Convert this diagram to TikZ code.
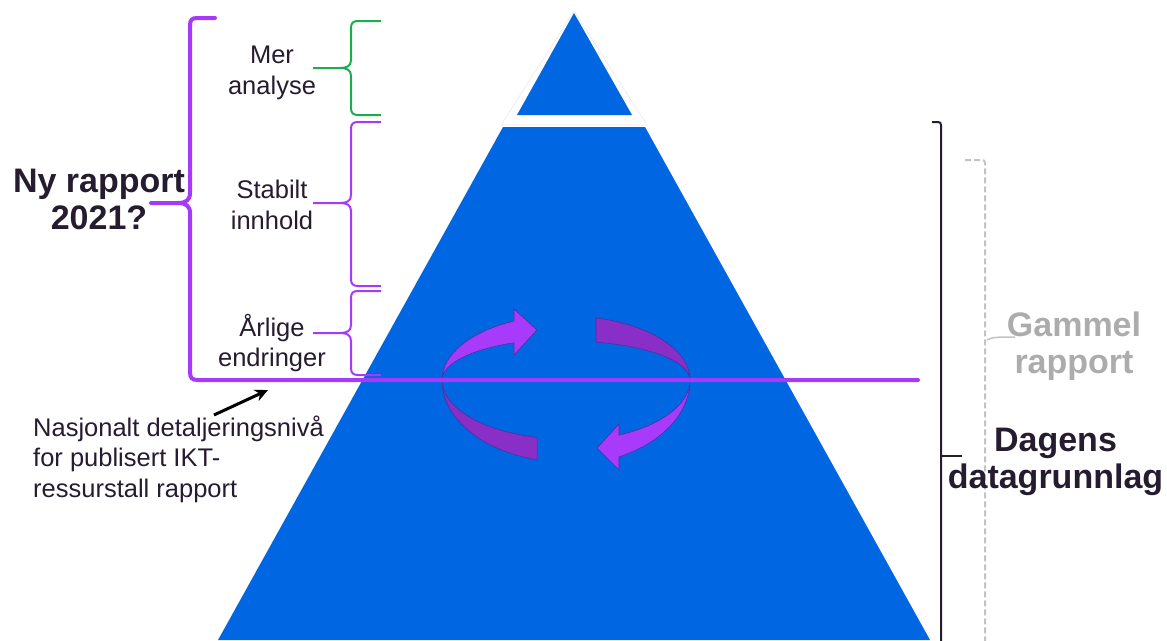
\documentclass[tikz,border=0pt]{standalone}
\usepackage{fontspec}
\setmainfont{Liberation Sans}
\usetikzlibrary{arrows.meta,calc}
\definecolor{pyrblue}{RGB}{0,102,226}
\definecolor{brpurple}{RGB}{164,58,250}
\definecolor{brgreen}{RGB}{30,170,80}
\definecolor{ribL}{RGB}{168,58,250}
\definecolor{ribD}{RGB}{138,46,200}
\definecolor{ribedge}{RGB}{70,50,160}
\definecolor{txtdark}{RGB}{38,28,48}
\definecolor{txtgray}{RGB}{172,172,172}
\definecolor{dashgray}{RGB}{195,195,195}
\newcommand\smallbrace[4]{%
  \draw[#4] (381,#1) -- (358,#1) .. controls (353,#1) and (351,#1+2) .. (351,#1+7)
    -- (351,#2-8) .. controls (351,#2-2) and (347,#2) .. (340,#2) -- (313,#2);
  \draw[#4] (340,#2) .. controls (347,#2) and (351,#2+2) .. (351,#2+8)
    -- (351,#3-7) .. controls (351,#3-2) and (353,#3) .. (358,#3) -- (381,#3);}
\begin{document}
\begin{tikzpicture}[x=1pt,y=1pt,yscale=-1,
  reg/.style={font=\fontsize{25.5}{30.5}\selectfont, text=txtdark, align=center, inner sep=0pt, anchor=base},
  big/.style={font=\fontsize{34}{37}\selectfont\bfseries, align=center, inner sep=0pt, anchor=base},
  bigbr/.style={draw=brpurple, line width=4pt, line cap=round},
  thinbr/.style={line width=2pt},
  ribbonL/.style={fill=ribL, draw=ribedge, line width=0.6pt},
  ribbonD/.style={fill=ribD, draw=ribedge, line width=0.6pt},
  blk/.style={draw=txtdark, line width=2pt},
  gdash/.style={draw=dashgray, line width=2pt, dash pattern=on 6pt off 3pt}]
\useasboundingbox (0,0) rectangle (1167,640);
\clip (0,0) rectangle (1167,640);
% pyramid
\filldraw[fill=white, draw=black!8, line width=0.6pt] (574,11) -- (501,125) -- (647,125) -- cycle;
\fill[pyrblue] (574,13) -- (517,115) -- (632,115) -- cycle;
\fill[pyrblue] (503,127) -- (645,127) -- (930,640) -- (218,640) -- cycle;
% cycle arrows
\coordinate (C) at (566,380);
\path[ribbonL] ($(C)+(245.2:124pt and 65pt)$) -- (514,309) -- (537,330) -- (514,355)
  -- ($(C)+(245.2:124pt and 41pt)$)
  arc[start angle=245.2,end angle=180,x radius=124pt,y radius=41pt]
  arc[start angle=180,end angle=245.2,x radius=124pt,y radius=65pt] -- cycle;
\path[ribbonD] ($(C)+(180:124pt and 82pt)$)
  arc[start angle=180,end angle=103.5,x radius=124pt,y radius=82pt]
  -- ($(C)+(103.5:124pt and 59pt)$)
  arc[start angle=103.5,end angle=180,x radius=124pt,y radius=59pt] -- cycle;
\path[ribbonD] ($(C)+(284:124pt and 64pt)$)
  arc[start angle=284,end angle=360,x radius=124pt,y radius=64pt]
  arc[start angle=0,end angle=-76,x radius=124pt,y radius=39pt] -- cycle;
\path[ribbonL] ($(C)+(64.7:124pt and 85pt)$) -- (619,470) -- (597,448) -- (619,424)
  -- ($(C)+(64.7:124pt and 61pt)$)
  arc[start angle=64.7,end angle=0,x radius=124pt,y radius=61pt]
  arc[start angle=0,end angle=64.7,x radius=124pt,y radius=85pt] -- cycle;
% big brace + line
\draw[bigbr] (215,18) -- (197,18) .. controls (192,18) and (190,20) .. (190,25) -- (190,193)
  .. controls (190,200) and (186,203) .. (178,203) -- (151,203);
\draw[bigbr] (178,203) .. controls (186,203) and (190,206) .. (190,213) -- (190,372)
  .. controls (190,378) and (192,380) .. (198,380) -- (918,380);
% small braces
\smallbrace{21}{68}{115}{thinbr,draw=brgreen}
\smallbrace{122}{203}{286}{thinbr,draw=brpurple}
\smallbrace{291}{333}{375}{thinbr,draw=brpurple}
% right brackets
\draw[blk] (932,122) -- (938,122) .. controls (940,122) and (941,123) .. (941,125) -- (941,645);
\draw[blk] (941,456) -- (962,456);
\draw[gdash] (965,160) -- (982,160) .. controls (984,160) and (985,161) .. (985,163) -- (985,645);
\draw[draw=dashgray, line width=1.5pt] (987,340) .. controls (992,337) and (998,337) .. (1015,337);
% texts
\node[reg] (mer) at (272,94) {Mer\\analyse};
\node[reg] (stab) at (272,229) {Stabilt\\innhold};
\node[reg] (arl) at (272,366.5) {Årlige\\endringer};
\node[big, text=txtdark] (ny) at (99,229) {Ny rapport\\2021?};
\node[big, text=txtgray] (gam) at (1074,373) {Gammel\\rapport};
\node[big, text=txtdark] (dag) at (1055.5,488) {Dagens\\datagrunnlag};
\node[reg, align=left, anchor=base west] (nas) at (33,497) {Nasjonalt detaljeringsnivå\\for publisert IKT-\\ressurstall rapport};
\coordinate (arrS) at (214,415);
\coordinate (arrE) at (268,390);
\draw[line width=3pt, draw=black, -{Stealth[length=13pt,width=12pt]}] (arrS) -- (arrE);
\end{tikzpicture}
\end{document}
